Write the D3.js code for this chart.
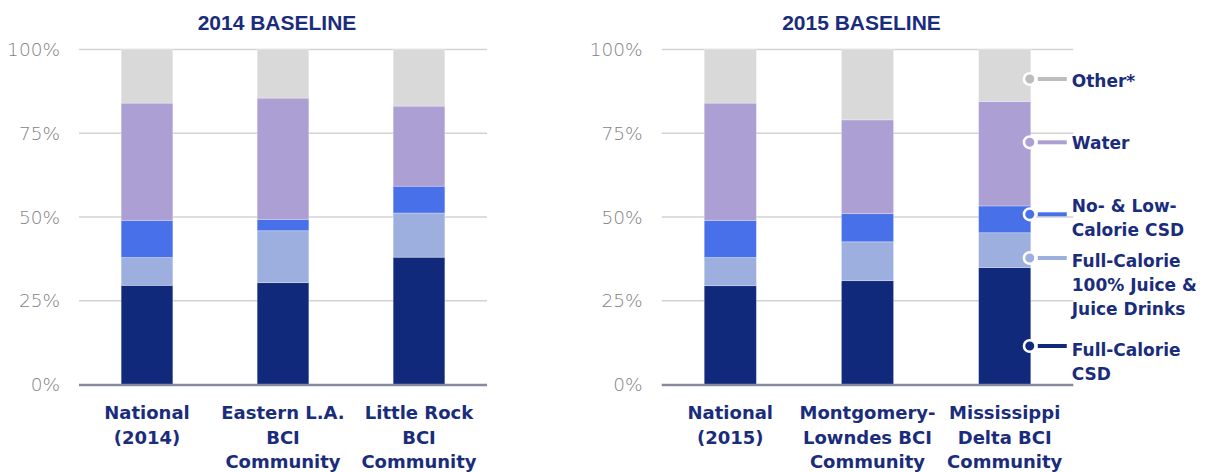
<!DOCTYPE html>
<html>
<head>
<meta charset="utf-8">
<script src="https://cdn.jsdelivr.net/npm/d3@7"></script>
<style>
  html, body { margin: 0; padding: 0; background: #ffffff; }
  svg { display: block; }
</style>
</head>
<body>
<svg id="chart" width="1205" height="472"></svg>
<script>
// ---------- DATA ----------
const seriesKeys = ["csd", "juice", "nolow", "water", "other"];
const seriesNames = ["Full-Calorie CSD", "Full-Calorie 100% Juice & Juice Drinks", "No- & Low-Calorie CSD", "Water", "Other*"];

const titles2014 = "2014 BASELINE";
const categories2014 = ["National\n(2014)", "Eastern L.A.\nBCI\nCommunity", "Little Rock\nBCI\nCommunity"];
const csd2014   = [29.6, 30.4, 38.0];
const juice2014 = [8.3, 15.5, 13.2];
const nolow2014 = [11.1, 3.4, 8.0];
const water2014 = [35.0, 36.2, 23.9];
const other2014 = [16.0, 14.5, 16.9];

const titles2015 = "2015 BASELINE";
const categories2015 = ["National\n(2015)", "Montgomery-\nLowndes BCI\nCommunity", "Mississippi\nDelta BCI\nCommunity"];
const csd2015   = [29.5, 31.0, 34.9];
const juice2015 = [8.4, 11.6, 10.4];
const nolow2015 = [11.1, 8.4, 8.0];
const water2015 = [35.0, 28.0, 31.2];
const other2015 = [16.0, 21.0, 15.5];

const yTicks = [0, 25, 50, 75, 100];
const legendLabels = {
  other: ["Other*"],
  water: ["Water"],
  nolow: ["No- & Low-", "Calorie CSD"],
  juice: ["Full-Calorie", "100% Juice &", "Juice Drinks"],
  csd:   ["Full-Calorie", "CSD"]
};

// ---------- STYLE / LAYOUT ----------
const colors = { csd: "#11297b", juice: "#9dafdf", nolow: "#4870e8", water: "#ab9fd4", other: "#d9d9d9" };
const legendLineColors = { csd: "#11297b", juice: "#9dafdf", nolow: "#4870e8", water: "#ab9fd4", other: "#bdbdbd" };
const textNavy = "#1a2c7c";
const boldFont = "'DejaVu Sans', sans-serif";

const svg = d3.select("#chart");
const y = d3.scaleLinear().domain([0, 100]).range([384.5, 49.5]);

function buildRows(cats, a, b, c, d, e) {
  return cats.map((cat, i) => ({ cat, csd: a[i], juice: b[i], nolow: c[i], water: d[i], other: e[i] }));
}

function drawChart(rows, title, x0, x1) {
  const g = svg.append("g");
  const x = d3.scaleBand().domain(rows.map(r => r.cat)).range([x0, x1]).paddingInner(0.62).paddingOuter(0.31);

  // title
  g.append("text")
    .attr("x", (x0 + x1) / 2 - 6).attr("y", 29.5)
    .attr("text-anchor", "middle")
    .attr("font-family", "'Liberation Sans', Arial, sans-serif")
    .attr("font-weight", "bold").attr("font-size", 21)
    .attr("fill", textNavy).text(title);

  // gridlines
  g.selectAll("line.grid").data(yTicks.filter(t => t > 0)).join("line")
    .attr("class", "grid")
    .attr("x1", x0).attr("x2", x1)
    .attr("y1", d => y(d)).attr("y2", d => y(d))
    .attr("stroke", "#d2d2d2").attr("stroke-width", 1.5);

  // tick labels
  g.selectAll("text.tick").data(yTicks).join("text")
    .attr("class", "tick")
    .attr("x", x0 - 19).attr("y", d => y(d))
    .attr("dy", "0.36em")
    .attr("text-anchor", "end")
    .attr("font-family", "'DejaVu Sans', sans-serif")
    .attr("font-weight", 200)
    .attr("font-size", 18.5)
    .attr("fill", "#7f7f7f")
    .text(d => d + "%");

  // stacked bars
  const stack = d3.stack().keys(seriesKeys);
  const layers = stack(rows);
  g.selectAll("g.layer").data(layers).join("g")
    .attr("class", "layer")
    .attr("fill", d => colors[d.key])
    .selectAll("rect").data(d => d).join("rect")
    .attr("x", d => x(d.data.cat))
    .attr("width", x.bandwidth())
    .attr("y", d => y(d[1]))
    .attr("height", d => y(d[0]) - y(d[1]))
    .attr("stroke", "rgba(255,255,255,0.35)")
    .attr("stroke-width", 0.8);

  // baseline
  g.append("line")
    .attr("x1", x0).attr("x2", x1)
    .attr("y1", y(0) + 0.5).attr("y2", y(0) + 0.5)
    .attr("stroke", "#878a9c").attr("stroke-width", 2.4);

  // category labels
  const lab = g.selectAll("text.cat").data(rows).join("text")
    .attr("class", "cat")
    .attr("x", d => x(d.cat) + x.bandwidth() / 2)
    .attr("y", 419)
    .attr("text-anchor", "middle")
    .attr("font-family", boldFont)
    .attr("font-weight", "bold")
    .attr("font-size", 18)
    .attr("fill", textNavy);
  lab.selectAll("tspan").data(d => d.cat.split("\n").map(t => ({ t, c: d.cat }))).join("tspan")
    .attr("x", d => x(d.c) + x.bandwidth() / 2)
    .attr("dy", (d, i) => i === 0 ? 0 : 24.5)
    .text(d => d.t);

  return x;
}

drawChart(buildRows(categories2014, csd2014, juice2014, nolow2014, water2014, other2014), titles2014, 79, 487);
const x2 = drawChart(buildRows(categories2015, csd2015, juice2015, nolow2015, water2015, other2015), titles2015, 661.7, 1073.3);

// ---------- LEGEND (attached to last bar of 2015 chart) ----------
const legendLayout = [
  { key: "other", cy: 79,    firstBaseline: 86.5 },
  { key: "water", cy: 142.3, firstBaseline: 149.3 },
  { key: "nolow", cy: 214.3, firstBaseline: 212 },
  { key: "juice", cy: 258,   firstBaseline: 266.5 },
  { key: "csd",   cy: 346,   firstBaseline: 356 }
];
const lastCat = categories2015[categories2015.length - 1];
const cx = x2(lastCat) + x2.bandwidth() - 1;
const lg = svg.append("g");
legendLayout.forEach(item => {
  lg.append("line")
    .attr("x1", cx + 8).attr("x2", cx + 37)
    .attr("y1", item.cy).attr("y2", item.cy)
    .attr("stroke", legendLineColors[item.key]).attr("stroke-width", 4);
  lg.append("circle")
    .attr("cx", cx).attr("cy", item.cy).attr("r", 5.8)
    .attr("fill", legendLineColors[item.key])
    .attr("stroke", "#ffffff").attr("stroke-width", 2.6);
  const t = lg.append("text")
    .attr("x", cx + 42).attr("y", item.firstBaseline)
    .attr("font-family", boldFont).attr("font-weight", "bold")
    .attr("font-size", 17).attr("fill", textNavy);
  t.selectAll("tspan").data(legendLabels[item.key]).join("tspan")
    .attr("x", cx + 42)
    .attr("dy", (d, i) => i === 0 ? 0 : 24)
    .text(d => d);
});
</script>
</body>
</html>
